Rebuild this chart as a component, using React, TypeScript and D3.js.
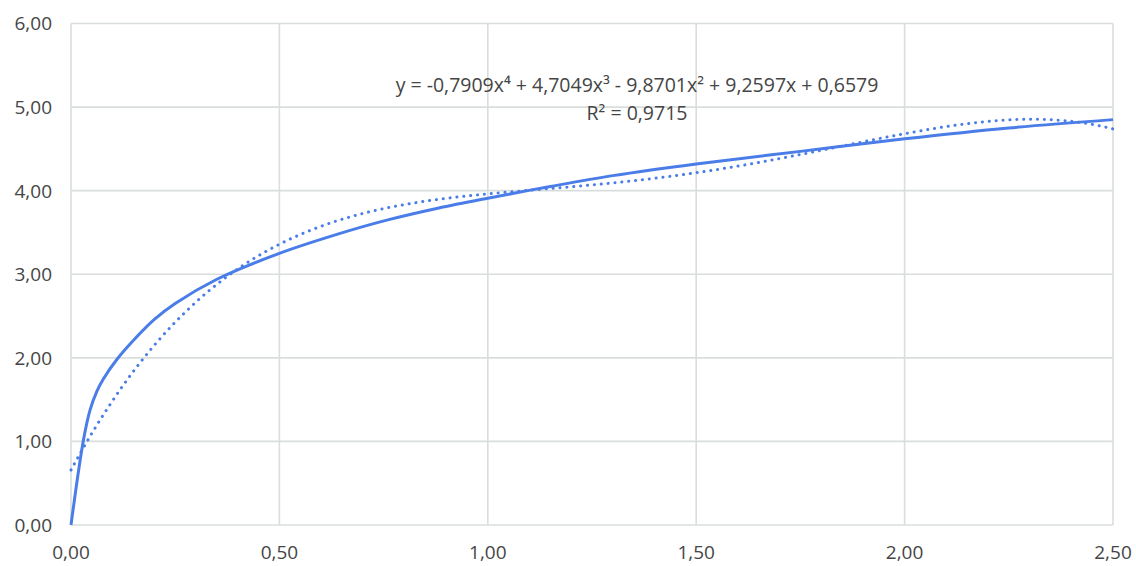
import React, { useEffect, useRef } from 'react';
import * as d3 from 'd3';

const xValues = [0, 0.03, 0.046, 0.062, 0.078, 0.11, 0.15, 0.2, 0.25, 0.35, 0.5, 0.64, 0.76, 0.88, 1.0, 1.15, 1.3, 1.5, 1.75, 2.0, 2.25, 2.5];
const yValues = [0, 1.02, 1.38, 1.6, 1.75, 1.98, 2.21, 2.46, 2.65, 2.94, 3.25, 3.48, 3.65, 3.79, 3.91, 4.05, 4.18, 4.32, 4.47, 4.62, 4.75, 4.85];

// polynomial trendline coefficients, highest power first (as printed on the chart)
const trendCoefs = [-0.7909, 4.7049, -9.8701, 9.2597, 0.6579];
const equationLabel = 'y = -0,7909x\u2074 + 4,7049x\u00b3 - 9,8701x\u00b2 + 9,2597x + 0,6579';
const r2Label = 'R\u00b2 = 0,9715';

const xTicks = [0, 0.5, 1, 1.5, 2, 2.5];
const yTicks = [0, 1, 2, 3, 4, 5, 6];

const W = 1136;
const H = 566;

const fmt = (v: number) => v.toFixed(2).replace('.', ',');

const App = () => {
  const ref = useRef<SVGSVGElement>(null);

  useEffect(() => {
    const svg = d3.select(ref.current);
    svg.selectAll('*').remove();

    const margin = { top: 23.5, right: 23, bottom: 41, left: 71 };
    const x = d3.scaleLinear().domain([0, 2.5]).range([margin.left, W - margin.right]);
    const y = d3.scaleLinear().domain([0, 6]).range([H - margin.bottom, margin.top]);

    const grid = '#d9dedd';
    const textColor = '#454545';
    const blue = '#4a7de8';
    const font = '"Open Sans", sans-serif';

    // gridlines
    svg.append('g')
      .selectAll('line')
      .data(yTicks)
      .join('line')
      .attr('x1', x(0))
      .attr('x2', x(2.5))
      .attr('y1', (d) => y(d))
      .attr('y2', (d) => y(d))
      .attr('stroke', grid)
      .attr('stroke-width', 1.6);

    svg.append('g')
      .selectAll('line')
      .data(xTicks)
      .join('line')
      .attr('x1', (d) => x(d))
      .attr('x2', (d) => x(d))
      .attr('y1', y(0))
      .attr('y2', y(6))
      .attr('stroke', grid)
      .attr('stroke-width', 1.6);

    // tick labels
    svg.append('g')
      .selectAll('text')
      .data(yTicks)
      .join('text')
      .attr('x', 52)
      .attr('y', (d) => y(d))
      .attr('dy', '0.36em')
      .attr('text-anchor', 'end')
      .attr('font-family', font)
      .attr('font-size', 19)
      .attr('fill', textColor)
      .text((d) => fmt(d));

    svg.append('g')
      .selectAll('text')
      .data(xTicks)
      .join('text')
      .attr('x', (d) => x(d))
      .attr('y', 559)
      .attr('text-anchor', 'middle')
      .attr('font-family', font)
      .attr('font-size', 19)
      .attr('fill', textColor)
      .text((d) => fmt(d));

    // trendline (dotted)
    const poly = (v: number) => trendCoefs.reduce((acc, c) => acc * v + c, 0);
    const trendX = d3.range(0, 2.5001, 0.01);
    const trendLine = d3.line<number>().x((d) => x(d)).y((d) => y(poly(d)));
    svg.append('path')
      .datum(trendX)
      .attr('fill', 'none')
      .attr('stroke', blue)
      .attr('stroke-width', 3)
      .attr('stroke-linecap', 'round')
      .attr('stroke-dasharray', '0.1 6.8')
      .attr('d', trendLine);

    // measured series
    const pts = xValues.map((v, i) => [v, yValues[i]] as [number, number]);
    const line = d3.line<[number, number]>()
      .x((d) => x(d[0]))
      .y((d) => y(d[1]))
      .curve(d3.curveCatmullRom.alpha(0.5));
    svg.append('path')
      .datum(pts)
      .attr('fill', 'none')
      .attr('stroke', blue)
      .attr('stroke-width', 3)
      .attr('stroke-linejoin', 'round')
      .attr('d', line);

    // trendline label
    svg.append('text')
      .attr('x', 637)
      .attr('y', 92)
      .attr('text-anchor', 'middle')
      .attr('font-family', font)
      .attr('font-size', 19.5)
      .attr('fill', textColor)
      .text(equationLabel);
    svg.append('text')
      .attr('x', 637)
      .attr('y', 120)
      .attr('text-anchor', 'middle')
      .attr('font-family', font)
      .attr('font-size', 19.5)
      .attr('fill', textColor)
      .text(r2Label);
  }, []);

  return (
    <svg
      ref={ref}
      width={W}
      height={H}
      style={{ position: 'absolute', left: 0, top: 0, background: '#fff' }}
    ></svg>
  );
};

export default App;
